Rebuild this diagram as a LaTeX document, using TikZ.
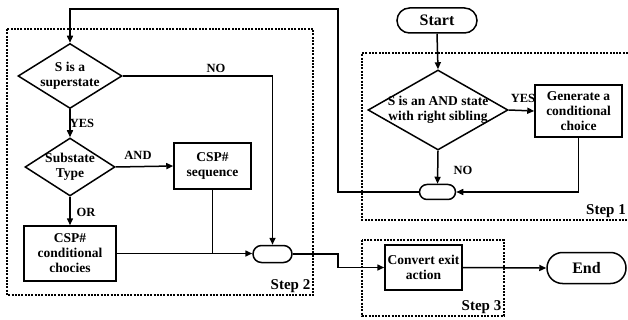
\documentclass[tikz,border=0pt]{standalone}
\usepackage{fontspec}
\setmainfont{Liberation Serif}
\usetikzlibrary{arrows.meta,shapes.geometric,shapes.misc}
\begin{document}
\begin{tikzpicture}[x=1pt,y=-1pt,
  line width=1.5pt,
  arr/.style={-{Triangle[length=7pt,width=6pt]}},
  txt/.style={font=\fontsize{13.5}{15}\selectfont\bfseries, align=center, inner sep=0pt},
  lbl/.style={font=\fontsize{12.5}{14}\selectfont\bfseries, inner sep=1pt},
  steplbl/.style={font=\fontsize{15}{16}\selectfont\bfseries, inner sep=0pt, anchor=south east},
  dia/.style={draw, shape=diamond, inner sep=0pt},
  procbox/.style={draw, rectangle, inner sep=0pt},
  term/.style={draw, rounded rectangle, inner sep=0pt},
  termtxt/.style={font=\fontsize{16}{18}\selectfont\bfseries},
  stepframe/.style={line width=1.3pt, dash pattern=on 2pt off 1.3pt}
]
\useasboundingbox (0,0) rectangle (628,320);

% dotted step frames
\draw[stepframe] (7,29) rectangle (313,295);
\draw[stepframe] (628,53) -- (362,53) -- (362,220) -- (628,220);
\draw[stepframe] (362,240) rectangle (504,316);
\node[steplbl] at (311,293) {Step 2};
\node[steplbl] at (626.5,218) {Step 1};
\node[steplbl] at (502,314) {Step 3};

% step 1
\node[term, minimum width=80pt, minimum height=25pt] (start) at (437,20.5) {};
\node[termtxt] at (start) {Start};
\node[dia, minimum width=140pt, minimum height=80pt] (d3) at (438,110) {};
\node[txt] at (d3) {S is an AND state\\with right sibling};
\node[procbox, minimum width=87pt, minimum height=52pt] (gen) at (578.5,111) {};
\node[txt] at (gen) {Generate a\\conditional\\choice};
\node[term, minimum width=36pt, minimum height=15pt] (t1) at (437.5,192) {};

% step 2
\node[dia, minimum width=104pt, minimum height=65pt] (d1) at (70,76) {};
\node[txt] at (d1) {S is a\\superstate};
\node[dia, minimum width=90pt, minimum height=58pt] (d2) at (70,167) {};
\node[txt] at (d2) {Substate\\Type};
\node[procbox, minimum width=77pt, minimum height=46pt] (seq) at (212.5,166) {};
\node[txt] at (seq) {CSP\#\\sequence};
\node[procbox, minimum width=92pt, minimum height=55pt] (cond) at (70,253.5) {};
\node[txt] at (cond) {CSP\#\\conditional\\chocies};
\node[term, minimum width=39pt, minimum height=17pt] (t2) at (272.5,254) {};

% step 3
\node[procbox, minimum width=77pt, minimum height=45pt] (conv) at (423.5,267.5) {};
\node[txt] at (conv) {Convert exit\\action};
\node[term, minimum width=79pt, minimum height=31pt] (end) at (586.5,268) {};
\node[termtxt] at (end) {End};

% connectors
\coordinate (loopR) at (338,9);
\coordinate (jn) at (338,254);
\draw[arr] (start.south) -- (d3.north);
\draw[arr] (d3.east) -- (gen.west);
\node[lbl] at (523,98) {YES};
\draw[arr] (d3.south) -- (t1.north);
\node[lbl] at (463,170) {NO};
\draw[arr] (gen.south) |- (t1.east);
\draw[arr] (t1.west) -| (loopR) -| (d1.north);
\draw[arr] (d1.east) -| (t2.north);
\node[lbl] at (216,68) {NO};
\draw[arr] (d1.south) -- (d2.north);
\node[lbl] at (82,123) {YES};
\draw[arr] (d2.east) -- (seq.west);
\node[lbl] at (138,155) {AND};
\draw[arr] (d2.south) -- (cond.north);
\node[lbl] at (86,212) {OR};
\draw[arr] (cond.east) -- (cond.east -| t2.west);
\draw (seq.south) -- (seq.south |- t2.west);
\draw[arr] (t2.east) -- (jn) |- (conv.west);
\draw[arr] (conv.east) -- (end.west);
\end{tikzpicture}
\end{document}
